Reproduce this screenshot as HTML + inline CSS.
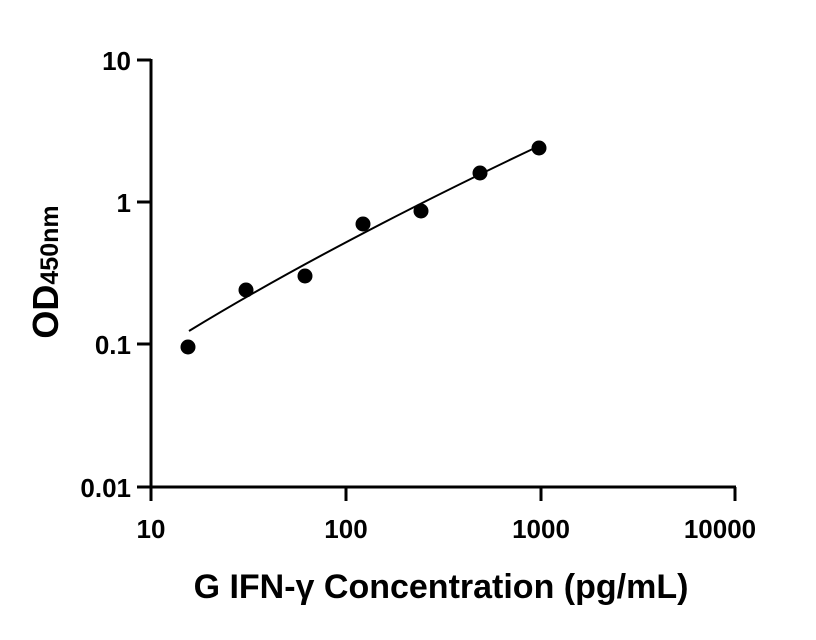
<!DOCTYPE html>
<html><head><meta charset="utf-8"><style>body{margin:0;background:#fff}svg{display:block}</style></head><body>
<svg width="816" height="640" viewBox="0 0 816 640" xmlns="http://www.w3.org/2000/svg" font-family="Liberation Sans, sans-serif" font-weight="bold">
<g stroke="#000" stroke-width="3" fill="none">
<line x1="151" y1="59" x2="151" y2="488"/>
<line x1="150" y1="487" x2="736" y2="487"/>
<line x1="137" y1="60" x2="151" y2="60"/>
<line x1="137" y1="202" x2="151" y2="202"/>
<line x1="137" y1="344" x2="151" y2="344"/>
<line x1="137" y1="487" x2="151" y2="487"/>
<line x1="151" y1="487" x2="151" y2="501"/>
<line x1="346" y1="487" x2="346" y2="501"/>
<line x1="541" y1="487" x2="541" y2="501"/>
<line x1="735" y1="487" x2="735" y2="501"/>
</g>
<path d="M189 331 Q330 245 539 146" stroke="#000" stroke-width="2" fill="none"/>
<g fill="#000">
<circle cx="188" cy="347" r="7.5"/><circle cx="246" cy="290" r="7.5"/><circle cx="305" cy="276" r="7.5"/><circle cx="363" cy="224" r="7.5"/><circle cx="421" cy="211" r="7.5"/><circle cx="480" cy="173" r="7.5"/><circle cx="539" cy="148" r="7.5"/>
</g>
<g font-size="26" text-anchor="end">
<text x="131" y="70">10</text><text x="131" y="212">1</text><text x="131" y="354">0.1</text><text x="131" y="497">0.01</text>
</g>
<g font-size="26" text-anchor="middle">
<text x="151" y="538">10</text><text x="346" y="538">100</text><text x="541" y="538">1000</text><text x="720" y="538">10000</text>
</g>
<text x="441" y="598" font-size="34" text-anchor="middle">G IFN-γ Concentration (pg/mL)</text>
<text transform="translate(58,272) rotate(-90)" font-size="36" text-anchor="middle">OD<tspan font-size="25">450nm</tspan></text>
</svg>
</body></html>
